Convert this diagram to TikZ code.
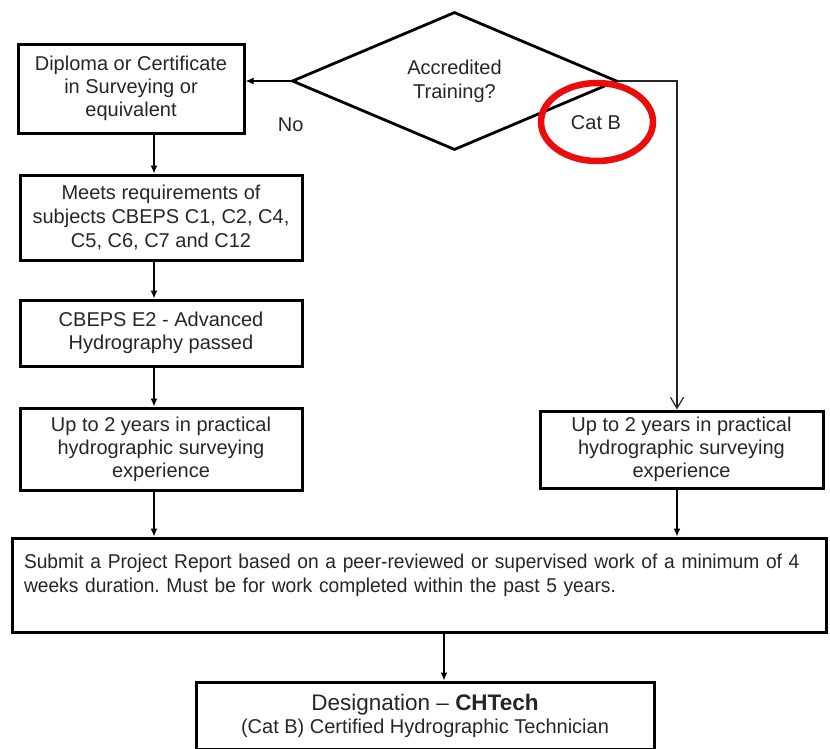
\documentclass[tikz,border=0pt]{standalone}
\usepackage{fontspec}
\setmainfont{Liberation Sans}
\newfontfamily\narrowsans[FakeStretch=0.96]{Liberation Sans}
\usetikzlibrary{positioning, calc, shapes.geometric, arrows.meta}
\definecolor{txtgrey}{RGB}{38,38,38}
\definecolor{markred}{RGB}{236,12,12}
\frenchspacing
\tikzstyle{Arrow} = [
    line width=1.4pt,
    -{Latex[length=8pt, width=7pt]}
]
\tikzstyle{OpenArrow} = [
    line width=1.2pt, draw=black!85,
    -{Straight Barb[length=11pt, width=13pt, line width=1.2pt]}
]

\begin{document}
\begin{tikzpicture}[
x=1pt, y=-1pt,
box/.style={
    draw,
    line width=3pt,
    align=center,
    inner sep=0pt,
    text=txtgrey,
    font=\fontsize{20}{23}\selectfont
    },
lbl/.style={
    text=txtgrey,
    font=\fontsize{20}{23}\selectfont
    }
]
\useasboundingbox (0,0) rectangle (830,748);

\node [draw, diamond, line width=2.8pt, inner sep=0pt,
       minimum width=325pt, minimum height=138pt,
       align=center, text=txtgrey, font=\fontsize{20}{24}\selectfont]
       (dec) at (454.5,81) {Accredited\\Training?};
\node [box, minimum width=226pt, minimum height=89pt] (dipl) at (131,88.5) {
    Diploma or Certificate\\in Surveying or\\equivalent
};
\node [lbl, below = 33pt of dec.west] (no) {No};

\draw [markred, line width=6.5pt] (597,122) ellipse [x radius=56pt, y radius=39pt];
\node [lbl] (catb) at (596,123) {Cat B};

\node [box, minimum width=282pt, minimum height=85pt, font=\fontsize{20}{24}\selectfont] (meets) at (161,217.5) {
    Meets requirements of\\subjects CBEPS C1, C2, C4,\\C5, C6, C7 and C12
};
\node [box, minimum width=282pt, minimum height=66pt] (cbeps) at (161,333) {
    CBEPS E2 - Advanced\\Hydrography passed
};
\node [box, minimum width=282pt, minimum height=82pt] (upleft) at (161,449) {
    Up to 2 years in practical\\hydrographic surveying\\experience
};
\node [box, minimum width=283pt, minimum height=77pt] (upright) at (681.5,449.5) {
    Up to 2 years in practical\\hydrographic surveying\\experience
};
\node [box, minimum width=814pt, minimum height=94pt, text width=790pt, align=left,
       font=\narrowsans\fontsize{20}{24}\selectfont] (submit) at (419,585) {
    Submit a Project Report based on a peer-reviewed or supervised work of a minimum of 4\\
    weeks duration. Must be for work completed within the past 5 years.\\\mbox{}
};
\node [box, minimum width=458pt, minimum height=67pt] (desig) at (425,715.5) {
    {\fontsize{22.5}{27}\selectfont Designation -- \textbf{CHTech}}\\
    {\fontsize{20}{24}\selectfont (Cat B) Certified Hydrographic Technician}
};

\coordinate (lane) at (154,0);
\coordinate (rlane) at (677,0);
\coordinate (mlane) at (444,0);

\draw [Arrow] (dec.west) -- (dec.west -| dipl.east);
\draw [OpenArrow] (dec.east) -- (dec.east -| rlane) -- (upright.north -| rlane);

\draw [Arrow] (dipl.south -| lane) -- (meets.north -| lane);
\draw [Arrow] (meets.south -| lane) -- (cbeps.north -| lane);
\draw [Arrow] (cbeps.south -| lane) -- (upleft.north -| lane);
\draw [Arrow] (upleft.south -| lane) -- (submit.north -| lane);
\draw [Arrow] (upright.south -| rlane) -- (submit.north -| rlane);
\draw [Arrow] (submit.south -| mlane) -- (desig.north -| mlane);

\end{tikzpicture}
\end{document}
